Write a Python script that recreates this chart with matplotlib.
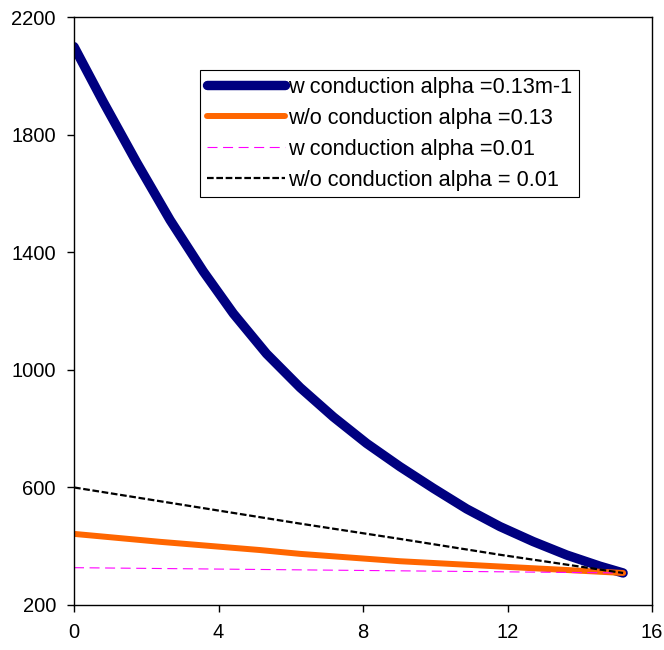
import matplotlib
matplotlib.use("Agg")
import matplotlib.pyplot as plt

plt.rcParams['font.family'] = ['Liberation Sans', 'DejaVu Sans']

# values
x_blue = [0, 0.81, 1.74, 2.66, 3.58, 4.41, 5.33, 6.26, 7.18, 8.10,
          9.02, 9.95, 10.87, 11.79, 12.71, 13.64, 14.56, 15.2]
y_blue = [2100, 1912, 1705, 1510, 1335, 1192, 1055, 940, 840, 750,
          671, 597, 527, 467, 416, 370, 332, 309]

x_orange = [0, 2.38, 5.15, 6.26, 9.02, 11.79, 15.2]
y_orange = [442, 415, 387, 374, 349, 331, 309]

x_magenta = [0, 15.2]
y_magenta = [327, 309]

x_black = [0, 6.26, 9.02, 11.79, 15.2]
y_black = [600, 477, 425, 371, 309]

labels = ['w conduction alpha =0.13m-1',
          'w/o conduction alpha =0.13',
          'w conduction alpha =0.01',
          'w/o conduction alpha = 0.01']

fig = plt.figure(figsize=(6.64, 6.5), dpi=100)
ax = fig.add_axes([74 / 664, 45 / 650, 578 / 664, 587.7 / 650])

ax.plot(x_blue, y_blue, color='#000080', lw=6.8, solid_capstyle='round',
        solid_joinstyle='round', label=labels[0])
ax.plot(x_orange, y_orange, color='#ff6600', lw=4.3, solid_capstyle='round',
        solid_joinstyle='round', label=labels[1])
ax.plot(x_magenta, y_magenta, color='#ff00ff', lw=0.8, dashes=(9, 5), label=labels[2])
ax.plot(x_black, y_black, color='black', lw=1.6, dashes=(3, 1.2), label=labels[3])

ax.set_xlim(0, 16)
ax.set_ylim(200, 2200)
ax.set_xticks([0, 4, 8, 12, 16])
ax.set_yticks([200, 600, 1000, 1400, 1800, 2200])
ax.tick_params(direction='out', length=5, width=1, labelsize=14.5, pad=8)
for s in ax.spines.values():
    s.set_linewidth(1)

leg = ax.legend(loc='upper left', bbox_to_anchor=(0.218, 0.910), fontsize=15.7,
                frameon=True, fancybox=False, framealpha=1, edgecolor='black',
                handlelength=3.6, handletextpad=0.15, borderpad=0.3, labelspacing=0.46,
                borderaxespad=0)
leg.get_frame().set_linewidth(0.8)

fig.savefig('out.png', dpi=100)
